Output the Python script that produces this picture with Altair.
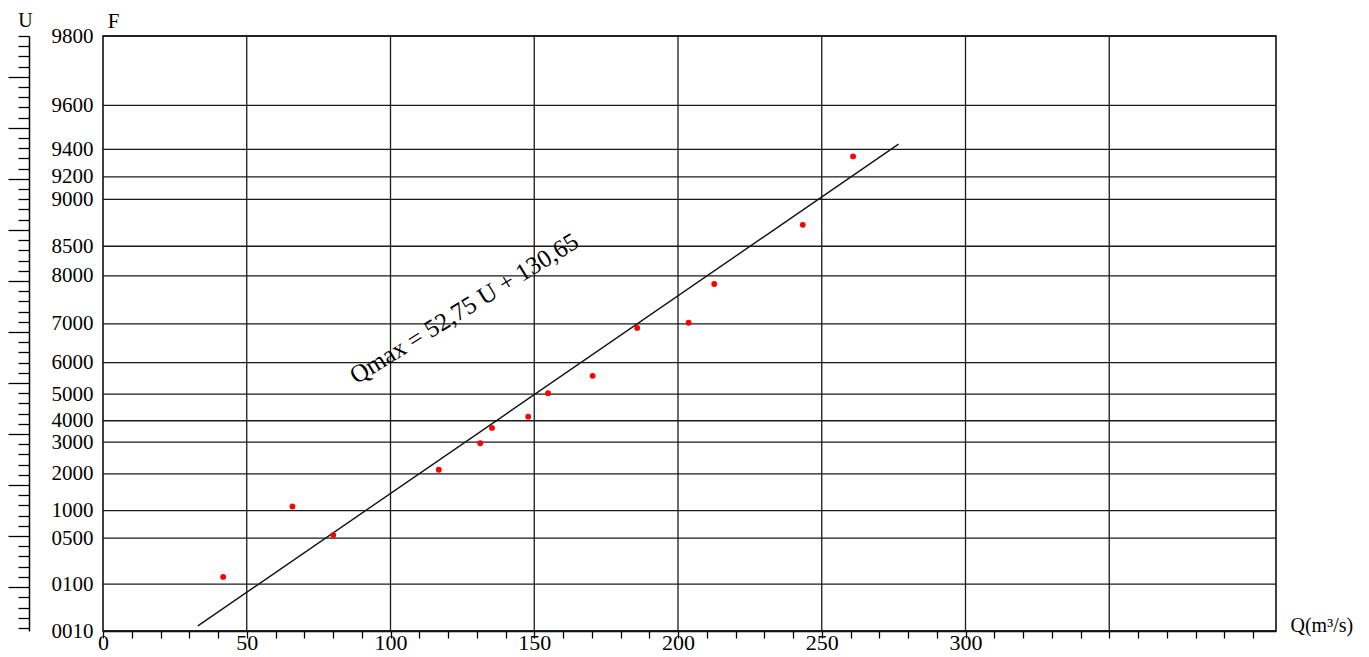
import altair as alt
import pandas as pd

# ---- data ----
# probability gridlines: label text and their reduced-variate position U
f_labels = ["9800", "9600", "9400", "9200", "9000", "8500", "8000", "7000", "6000",
            "5000", "4000", "3000", "2000", "1000", "0500", "0100", "0010"]
f_u = [3.90, 3.22, 2.79, 2.52, 2.30, 1.84, 1.55, 1.08, 0.70,
       0.39, 0.13, -0.08, -0.39, -0.75, -1.02, -1.47, -1.93]

# discharge gridlines and labelled ticks
q_grid = [50, 100, 150, 200, 250, 300, 350]
q_labels = [0, 50, 100, 150, 200, 250, 300]

# observed annual maxima
obs_q = [41.8, 65.9, 80.1, 116.8, 131.2, 135.3, 147.9, 154.8, 170.3, 185.8, 203.7, 212.6, 243.4, 260.9]
obs_u = [-1.40, -0.71, -0.99, -0.35, -0.09, 0.06, 0.17, 0.40, 0.57, 1.04, 1.09, 1.47, 2.05, 2.72]

# fitted line end points
fit_q = [33.0, 276.7]
fit_u = [-1.88, 2.84]

eq_text = ["Qmax = 52,75 U + 130,65"]
eq_q = [125.6]
eq_u = [1.23]

# ---- chart ----
FONT = "Liberation Serif"
W, H = 1173, 595

xs = alt.Scale(domain=[0, 408], nice=False, zero=False)
ys = alt.Scale(domain=[-1.93, 3.90], nice=False, zero=False)

x_tick_vals = list(range(0, 410, 10))
u_tick_vals = [round(i * 0.1, 1) for i in range(-19, 40)]

x_label_expr = "indexof([" + ",".join(str(v) for v in q_labels) + "], datum.value) >= 0 ? datum.label : ''"
f_label_expr = ("[" + ",".join("'" + s + "'" for s in f_labels) + "][indexof(["
                + ",".join(repr(v) for v in f_u) + "], datum.value)]")

x_axis = alt.Axis(
    orient="bottom", values=x_tick_vals, labelExpr=x_label_expr, grid=False,
    domain=True, domainColor="black", domainWidth=1.5,
    ticks=True, tickColor="black", tickWidth=1.3, tickSize=7,
    labelFont=FONT, labelFontSize=22, labelColor="black", labelPadding=-6,
    labelFlush=False, labelOverlap=False,
    title="Q(m³/s)", titleFont=FONT, titleFontSize=20, titleFontWeight="normal",
    titleColor="black", titleAngle=0, titleAlign="left", titleBaseline="middle",
    titleX=W + 14, titleY=-6,
)

f_axis = alt.Axis(
    orient="left", values=f_u, labelExpr=f_label_expr, grid=False,
    domain=False, ticks=False, labelPadding=10,
    labelFont=FONT, labelFontSize=21, labelColor="black",
    labelFlush=False, labelOverlap=False, labelBaseline="middle",
    title="F", titleFont=FONT, titleFontSize=21, titleFontWeight="normal",
    titleColor="black", titleAngle=0, titleAlign="center", titleBaseline="middle",
    titleX=10, titleY=-15,
)

u_axis = alt.Axis(
    orient="left", offset=74, values=u_tick_vals, labels=False, grid=False,
    domain=True, domainColor="black", domainWidth=1.5,
    ticks=True, tickColor="black", tickWidth=1.3,
    tickSize={"condition": {"test": "abs(datum.value*2 - round(datum.value*2)) < 0.001", "value": 21}, "value": 11},
    title="U", titleFont=FONT, titleFontSize=20, titleFontWeight="normal",
    titleColor="black", titleAngle=0, titleAlign="center", titleBaseline="middle",
    titleX=-4, titleY=-16,
)

vgrid = alt.Chart(pd.DataFrame({"Q": q_grid})).mark_rule(
    color="#1a1a1a", strokeWidth=1.3
).encode(x=alt.X("Q:Q", scale=xs, axis=None))

hgrid = alt.Chart(pd.DataFrame({"U": f_u, "F": f_labels})).mark_rule(
    color="#1a1a1a", strokeWidth=1.3
).encode(y=alt.Y("U:Q", scale=ys, axis=f_axis))

fit = alt.Chart(pd.DataFrame({"Q": fit_q, "U": fit_u})).mark_line(
    color="#111111", strokeWidth=1.4
).encode(
    x=alt.X("Q:Q", scale=xs, axis=None),
    y=alt.Y("U:Q", scale=ys, axis=u_axis),
)

pts = alt.Chart(pd.DataFrame({"Q": obs_q, "U": obs_u})).mark_circle(
    color="#ff0000", size=34, opacity=1
).encode(
    x=alt.X("Q:Q", scale=xs, axis=x_axis),
    y=alt.Y("U:Q", scale=ys, axis=None),
)

txt = alt.Chart(pd.DataFrame({"Q": eq_q, "U": eq_u, "t": eq_text})).mark_text(
    angle=328.3, fontSize=25, font=FONT, color="black", align="center", baseline="middle"
).encode(
    x=alt.X("Q:Q", scale=xs, axis=None),
    y=alt.Y("U:Q", scale=ys, axis=None),
    text="t:N",
)

chart = alt.layer(vgrid, hgrid, fit, pts, txt).resolve_axis(x="independent", y="independent").properties(
    width=W, height=H,
    padding={"left": 95, "top": 28, "right": 80, "bottom": 26},
    autosize=alt.AutoSizeParams(type="none"),
    background="white",
).configure_view(stroke="black", strokeWidth=1.5)

chart.save("out.html", embed_options={"renderer": "svg", "actions": False})
